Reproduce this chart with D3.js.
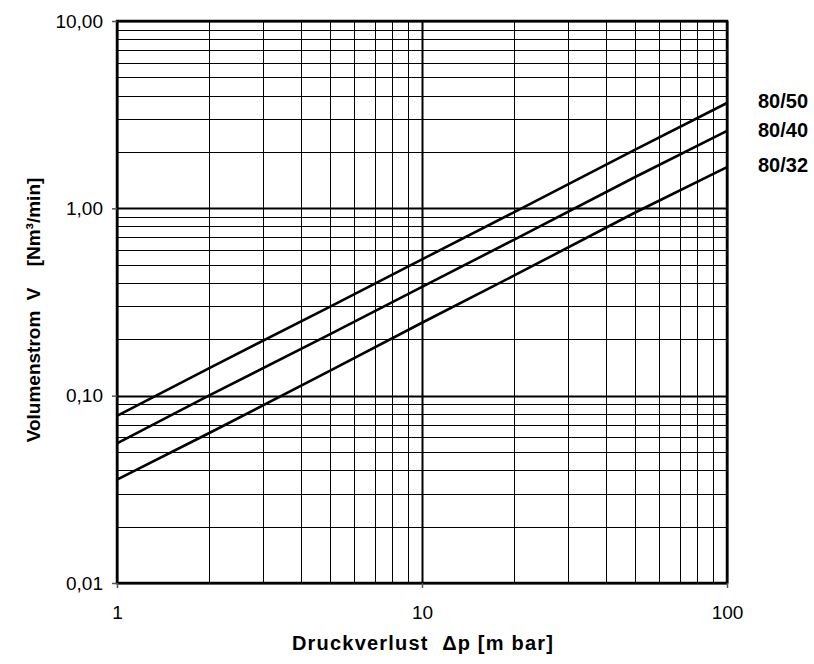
<!DOCTYPE html>
<html>
<head>
<meta charset="utf-8">
<script src="https://cdn.jsdelivr.net/npm/d3@7"></script>
<style>
  body { margin: 0; background: #fff; }
  text { font-family: "Liberation Sans", Arial, sans-serif; fill: #000; }
</style>
</head>
<body>
<svg id="chart" width="814" height="664"></svg>
<script>
// pressure loss points (mbar)
const dp = [1, 2, 5, 10, 20, 50, 100];
// flow (Nm3/min)
const flow5050 = [0.078, 0.140, 0.299, 0.534, 0.952, 2.06, 3.65];
const flow8040 = [0.0556, 0.100, 0.213, 0.381, 0.679, 1.47, 2.59];
const flow8032 = [0.0356, 0.063, 0.136, 0.245, 0.437, 0.95, 1.66];
const seriesNames = ['80/50', '80/40', '80/32'];
const yTickValues = [0.01, 0.1, 1, 10];
const yTickLabels = ['0,01', '0,10', '1,00', '10,00'];
const xTickValues = [1, 10, 100];
const xTickLabels = ['1', '10', '100'];

const series = [flow5050, flow8040, flow8032];

const svg = d3.select('#chart');

const dims = { left: 117, right: 727, top: 21, bottom: 583 };

const x = d3.scaleLog().domain([1, 100]).range([dims.left, dims.right]);
const y = d3.scaleLog().domain([0.01, 10]).range([dims.bottom, dims.top]);

// minor + major grid values
let xGrid = [], yGrid = [];
[1, 10].forEach(function(d) { for (let k = 1; k < 10; k++) xGrid.push(d * k); });
xGrid.push(100);
[0.01, 0.1, 1].forEach(function(d) { for (let k = 1; k < 10; k++) yGrid.push(+(d * k).toPrecision(3)); });
yGrid.push(10);

const isMajor = function(v) { return Math.abs(Math.log10(v) - Math.round(Math.log10(v))) < 1e-9; };

const grid = svg.append('g').attr('class', 'grid');
grid.selectAll('.hgrid')
    .data(yGrid)
    .enter()
    .append('line')
    .attr('x1', dims.left).attr('x2', dims.right)
    .attr('y1', function(d) { return Math.round(y(d)) + 0.5; })
    .attr('y2', function(d) { return Math.round(y(d)) + 0.5; })
    .attr('stroke', '#000')
    .attr('stroke-width', function(d) { return isMajor(d) ? 2 : 1; });

grid.selectAll('.vgrid')
    .data(xGrid)
    .enter()
    .append('line')
    .attr('y1', dims.top).attr('y2', dims.bottom)
    .attr('x1', function(d) { return Math.round(x(d)) + 0.5; })
    .attr('x2', function(d) { return Math.round(x(d)) + 0.5; })
    .attr('stroke', '#000')
    .attr('stroke-width', function(d) { return isMajor(d) ? 2 : 1; });

// frame
svg.append('rect')
   .attr('x', dims.left).attr('y', dims.top)
   .attr('width', dims.right - dims.left).attr('height', dims.bottom - dims.top)
   .attr('fill', 'none').attr('stroke', '#000').attr('stroke-width', 2.5);

// axes
const yAxis = d3.axisLeft(y)
    .tickValues(yTickValues)
    .tickSize(5)
    .tickPadding(9)
    .tickFormat(function(d, i) { return yTickLabels[i]; });

const yg = svg.append('g')
   .attr('class', 'axis axis-y')
   .attr('transform', 'translate(' + dims.left + ',0)')
   .call(yAxis);

const xAxis = d3.axisBottom(x)
    .tickValues(xTickValues)
    .tickSize(5)
    .tickPadding(18)
    .tickFormat(function(d, i) { return xTickLabels[i]; });

const xg = svg.append('g')
   .attr('class', 'axis axis-x')
   .attr('transform', 'translate(0,' + dims.bottom + ')')
   .call(xAxis);

[yg, xg].forEach(function(g) {
  g.select('.domain').remove();
  g.selectAll('.tick line').attr('stroke', '#555').attr('stroke-width', 1.5);
  g.selectAll('.tick text').style('font-size', '19px').style('font-family', '"Liberation Sans", Arial, sans-serif');
});

// curves
const line = d3.line()
    .x(function(d, i) { return x(dp[i]); })
    .y(function(d) { return y(d); });

svg.append('g')
   .selectAll('path')
   .data(series)
   .enter()
   .append('path')
   .attr('d', line)
   .attr('fill', 'none')
   .attr('stroke', '#000')
   .attr('stroke-width', 2.6);

// series labels
const labelY = [108, 137, 172];
svg.append('g')
   .selectAll('text')
   .data(seriesNames)
   .enter()
   .append('text')
   .attr('x', 758)
   .attr('y', function(d, i) { return labelY[i]; })
   .style('font-size', '20px')
   .style('font-weight', 'bold')
   .text(function(d) { return d; });

// axis titles
svg.append('text')
   .attr('x', 423).attr('y', 650)
   .attr('text-anchor', 'middle')
   .style('font-size', '20px')
   .style('font-weight', 'bold')
   .style('letter-spacing', '1.2px')
   .style('white-space', 'pre')
   .text('Druckverlust  \u0394p [m bar]');

svg.append('text')
   .attr('transform', 'translate(40,310) rotate(-90)')
   .attr('text-anchor', 'middle')
   .style('font-size', '19px')
   .style('font-weight', 'bold')
   .style('white-space', 'pre')
   .text('Volumenstrom  V    [Nm\u00b3/min]');
</script>
</body>
</html>
